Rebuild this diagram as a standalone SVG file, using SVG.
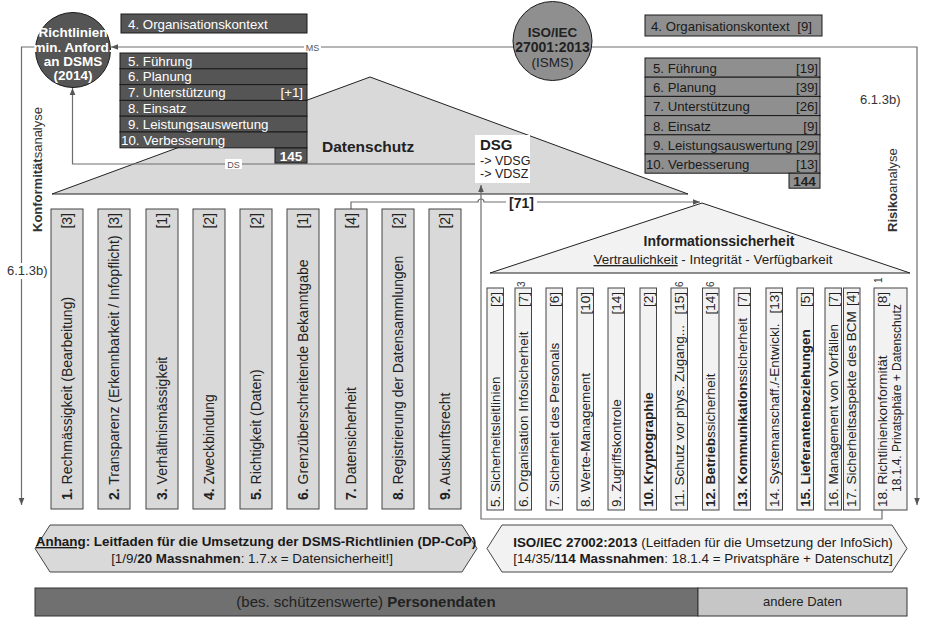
<svg xmlns="http://www.w3.org/2000/svg" width="932" height="619" viewBox="0 0 932 619">
<style>
text{font-family:"Liberation Sans",Arial,sans-serif;fill:#222}
.b{font-weight:bold}
.u{text-decoration:underline}
.coll{fill:#d9d9d9;stroke:#444;stroke-width:1}
.colr{fill:#f2f2f2;stroke:#444;stroke-width:1}
.ct{font-size:14px}
.cr{font-size:13.5px}
.dk{fill:#555;stroke:#1a1a1a;stroke-width:1}
.dkt{fill:#fff;font-size:13.3px}
.iso{fill:#8f8f8f;stroke:#1a1a1a;stroke-width:1}
.isot{font-size:13.2px;fill:#1a1a1a}
.conn{fill:none;stroke:#6e6e6e;stroke-width:1.2}
.lbl{font-size:9px;fill:#555}
.sup{font-size:10px;fill:#333}
.side{font-size:13px;fill:#333}
.hex{font-size:13.4px;fill:#1a1a1a}
</style>
<defs>
<marker id="ah" viewBox="0 0 10 10" refX="10" refY="5" markerWidth="7" markerHeight="7" markerUnits="userSpaceOnUse" orient="auto">
<path d="M0,1 L10,5 L0,9 z" fill="#555"/>
</marker>
</defs>
<rect width="932" height="619" fill="#fff"/>

<g id="triangle-datenschutz">
<polygon points="52,194 370,77 688,194" fill="#d9d9d9" stroke="#222" stroke-width="1"/>
<text x="322" y="152" class="b" style="font-size:15.5px">Datenschutz</text>
</g>
<g id="triangle-infosich">
<polygon points="490,273 702,203 910,273" fill="#f2f2f2" stroke="#222" stroke-width="1"/>
<text x="719" y="246" class="b" text-anchor="middle" style="font-size:14px">Informationssicherheit</text>
<text x="713" y="264" text-anchor="middle" style="font-size:13.4px"><tspan class="u">Vertraulichkeit</tspan> - Integrität - Verfügbarkeit</text>
</g>

<g id="connectors">
<path class="conn" d="M513,47 H111" marker-end="url(#ah)"/>
<path class="conn" d="M592,47 H917 V505" marker-end="url(#ah)"/>
<path class="conn" d="M36,47 H21.5 V505" marker-end="url(#ah)"/>
<path class="conn" d="M475,164 H72.5 V88" marker-end="url(#ah)"/>
<path class="conn" d="M882,510 V519 H481 V185" marker-end="url(#ah)"/>
<path class="conn" d="M351,209 V202 H478 A3,3 0 0 1 484,202 H700" marker-end="url(#ah)"/>
<rect x="304" y="42" width="17" height="10" fill="#fff"/>
<text x="312.5" y="50.5" class="lbl" text-anchor="middle">MS</text>
<rect x="225" y="159" width="17" height="10" fill="#fff"/>
<text x="233.5" y="167.5" class="lbl" text-anchor="middle">DS</text>
<rect x="506" y="196" width="31" height="13" fill="#fff"/>
<text x="521.5" y="207.5" class="b" text-anchor="middle" style="font-size:14px">[71]</text>
</g>

<g id="circle-dsms">
<circle cx="73" cy="50" r="37.5" fill="#555" stroke="#1a1a1a"/>
<text x="73" y="37" class="b" text-anchor="middle" style="font-size:13.5px;fill:#fff">Richtlinien</text>
<text x="73" y="51.5" class="b" text-anchor="middle" style="font-size:13.5px;fill:#fff">min. Anford.</text>
<text x="73" y="65.5" class="b" text-anchor="middle" style="font-size:13.5px;fill:#fff">an DSMS</text>
<text x="73" y="79.5" class="b" text-anchor="middle" style="font-size:13.5px;fill:#fff">(2014)</text>
</g>

<g id="circle-iso27001">
<circle cx="552.5" cy="41" r="39.5" fill="#8f8f8f" stroke="#1a1a1a"/>
<text x="552.5" y="37" class="b" text-anchor="middle" style="font-size:13.5px">ISO/IEC</text>
<text x="552.5" y="52" class="b" text-anchor="middle" style="font-size:14px">27001:2013</text>
<text x="552.5" y="67" text-anchor="middle" style="font-size:13.5px">(ISMS)</text>
</g>

<g id="dsms-chapters">
<rect class="dk" x="121" y="14" width="186" height="19"/>
<text class="dkt" x="128" y="28.5">4. Organisationskontext</text>
<rect class="dk" x="120" y="53" width="187" height="15.8"/>
<rect class="dk" x="120" y="68.8" width="187" height="15.8"/>
<rect class="dk" x="120" y="84.6" width="187" height="15.8"/>
<rect class="dk" x="120" y="100.4" width="187" height="15.8"/>
<rect class="dk" x="120" y="116.2" width="187" height="15.8"/>
<rect class="dk" x="120" y="132" width="187" height="15.8"/>
<text class="dkt" x="128" y="65.5">5. Führung</text>
<text class="dkt" x="128" y="81.3">6. Planung</text>
<text class="dkt" x="128" y="97.1">7. Unterstützung</text>
<text class="dkt" x="303" y="97.1" text-anchor="end">[+1]</text>
<text class="dkt" x="128" y="112.9">8. Einsatz</text>
<text class="dkt" x="128" y="128.7">9. Leistungsauswertung</text>
<text class="dkt" x="121" y="144.5">10. Verbesserung</text>
<rect class="dk" x="275" y="148" width="32" height="15"/>
<text x="291" y="160.5" class="b" text-anchor="middle" style="font-size:13.5px;fill:#fff">145</text>
</g>

<g id="iso-chapters">
<rect class="iso" x="645" y="15" width="177" height="21"/>
<text class="isot" x="651" y="30.5">4. Organisationskontext <tspan dx="4">[9]</tspan></text>
<rect class="iso" x="645" y="58" width="175" height="19.2"/>
<rect class="iso" x="645" y="77.2" width="175" height="19.2"/>
<rect class="iso" x="645" y="96.4" width="175" height="19.2"/>
<rect class="iso" x="645" y="115.6" width="175" height="19.2"/>
<rect class="iso" x="645" y="134.8" width="175" height="19.2"/>
<rect class="iso" x="645" y="154" width="175" height="19.2"/>
<text class="isot" x="653" y="73">5. Führung</text><text class="isot" x="818" y="73" text-anchor="end">[19]</text>
<text class="isot" x="653" y="92.2">6. Planung</text><text class="isot" x="818" y="92.2" text-anchor="end">[39]</text>
<text class="isot" x="653" y="111.4">7. Unterstützung</text><text class="isot" x="818" y="111.4" text-anchor="end">[26]</text>
<text class="isot" x="653" y="130.6">8. Einsatz</text><text class="isot" x="818" y="130.6" text-anchor="end">[9]</text>
<text class="isot" x="653" y="149.8">9. Leistungsauswertung</text><text class="isot" x="818" y="149.8" text-anchor="end">[29]</text>
<text class="isot" x="646" y="169">10. Verbesserung</text><text class="isot" x="818" y="169" text-anchor="end">[13]</text>
<rect class="iso" x="789" y="173.2" width="31" height="15"/>
<text x="804.5" y="185.5" class="b" text-anchor="middle" style="font-size:13.5px">144</text>
</g>

<g id="dsg">
<rect x="475" y="135" width="55" height="48" fill="#fff"/>
<text x="480" y="150" class="b" style="font-size:15px">DSG</text>
<text x="480" y="165" style="font-size:12.5px">-&gt; VDSG</text>
<text x="480" y="178" style="font-size:12.5px">-&gt; VDSZ</text>
</g>

<g id="side-labels">
<rect x="6" y="263" width="42" height="16" fill="#fff"/>
<text class="side" x="7" y="275">6.1.3b)</text>
<text class="side" transform="translate(42,232) rotate(-90)"><tspan class="b">Konformität</tspan>sanalyse</text>
<text class="side" x="860" y="104">6.1.3b)</text>
<text class="side" transform="translate(897,232) rotate(-90)"><tspan class="b">Risiko</tspan>analyse</text>
</g>

<g id="dsg-principles">
<g id="dsg-1"><rect class="coll" x="51" y="209" width="32" height="300"/><text class="ct" transform="translate(72,500) rotate(-90)"><tspan class="b">1.</tspan> Rechmässigkeit (Bearbeitung)</text><text class="ct" text-anchor="end" transform="translate(72,213) rotate(-90)">[3]</text></g>
<g id="dsg-2"><rect class="coll" x="98" y="209" width="32" height="300"/><text class="ct" transform="translate(119,500) rotate(-90)"><tspan class="b">2.</tspan> Transparenz (Erkennbarkeit / Infopflicht)</text><text class="ct" text-anchor="end" transform="translate(119,213) rotate(-90)">[3]</text></g>
<g id="dsg-3"><rect class="coll" x="146" y="209" width="32" height="300"/><text class="ct" transform="translate(167,500) rotate(-90)"><tspan class="b">3.</tspan> Verhältnismässigkeit</text><text class="ct" text-anchor="end" transform="translate(167,213) rotate(-90)">[1]</text></g>
<g id="dsg-4"><rect class="coll" x="193" y="209" width="32" height="300"/><text class="ct" transform="translate(214,500) rotate(-90)"><tspan class="b">4.</tspan> Zweckbindung</text><text class="ct" text-anchor="end" transform="translate(214,213) rotate(-90)">[2]</text></g>
<g id="dsg-5"><rect class="coll" x="240" y="209" width="32" height="300"/><text class="ct" transform="translate(261,500) rotate(-90)"><tspan class="b">5.</tspan> Richtigkeit (Daten)</text><text class="ct" text-anchor="end" transform="translate(261,213) rotate(-90)">[2]</text></g>
<g id="dsg-6"><rect class="coll" x="287" y="209" width="32" height="300"/><text class="ct" transform="translate(308,500) rotate(-90)"><tspan class="b">6.</tspan> Grenzüberschreitende Bekanntgabe</text><text class="ct" text-anchor="end" transform="translate(308,213) rotate(-90)">[1]</text></g>
<g id="dsg-7"><rect class="coll" x="335" y="209" width="32" height="300"/><text class="ct" transform="translate(356,500) rotate(-90)"><tspan class="b">7.</tspan> Datensicherheit</text><text class="ct" text-anchor="end" transform="translate(356,213) rotate(-90)">[4]</text></g>
<g id="dsg-8"><rect class="coll" x="382" y="209" width="32" height="300"/><text class="ct" transform="translate(403,500) rotate(-90)"><tspan class="b">8.</tspan> Registrierung der Datensammlungen</text><text class="ct" text-anchor="end" transform="translate(403,213) rotate(-90)">[2]</text></g>
<g id="dsg-9"><rect class="coll" x="429" y="209" width="32" height="300"/><text class="ct" transform="translate(450,500) rotate(-90)"><tspan class="b">9.</tspan> Auskunftsrecht</text><text class="ct" text-anchor="end" transform="translate(450,213) rotate(-90)">[2]</text></g>
</g>

<g id="iso-controls">
<g id="iso-5"><rect class="colr" x="487" y="288" width="16.5" height="222"/><text class="cr" transform="translate(499.5,507) rotate(-90)">5. Sicherheitsleitlinien</text><text class="cr" text-anchor="end" transform="translate(499.5,292) rotate(-90)">[2]</text></g>
<g id="iso-6"><rect class="colr" x="515" y="288" width="16.5" height="222"/><text class="cr" transform="translate(527.5,507) rotate(-90)">6. Organisation Infosicherheit</text><text class="cr" text-anchor="end" transform="translate(527.5,292) rotate(-90)">[7]</text><text class="sup" transform="translate(525,287) rotate(-90)">3</text></g>
<g id="iso-7"><rect class="colr" x="546" y="288" width="16.5" height="222"/><text class="cr" transform="translate(558.5,507) rotate(-90)">7. Sicherheit des Personals</text><text class="cr" text-anchor="end" transform="translate(558.5,292) rotate(-90)">[6]</text></g>
<g id="iso-8"><rect class="colr" x="577" y="288" width="16.5" height="222"/><text class="cr" transform="translate(589.5,507) rotate(-90)">8. Werte-Management</text><text class="cr" text-anchor="end" transform="translate(589.5,292) rotate(-90)">[10]</text></g>
<g id="iso-9"><rect class="colr" x="608" y="288" width="16.5" height="222"/><text class="cr" transform="translate(620.5,507) rotate(-90)">9. Zugriffskontrole</text><text class="cr" text-anchor="end" transform="translate(620.5,292) rotate(-90)">[14]</text></g>
<g id="iso-10"><rect class="colr" x="640" y="288" width="16.5" height="222"/><text class="cr b" transform="translate(652.5,507) rotate(-90)">10. Kryptographie</text><text class="cr" text-anchor="end" transform="translate(652.5,292) rotate(-90)">[2]</text></g>
<g id="iso-11"><rect class="colr" x="671" y="288" width="16.5" height="222"/><text class="cr" transform="translate(683.5,507) rotate(-90)">11. Schutz vor phys. Zugang...</text><text class="cr" text-anchor="end" transform="translate(683.5,292) rotate(-90)">[15]</text><text class="sup" transform="translate(683,287) rotate(-90)">6</text></g>
<g id="iso-12"><rect class="colr" x="702.5" y="288" width="16.5" height="222"/><text class="cr" transform="translate(715,507) rotate(-90)"><tspan class="b">12. Betrieb</tspan>ssicherheit</text><text class="cr" text-anchor="end" transform="translate(715,292) rotate(-90)">[14]</text><text class="sup" transform="translate(714,287) rotate(-90)">6</text></g>
<g id="iso-13"><rect class="colr" x="734" y="288" width="16.5" height="222"/><text class="cr" transform="translate(746.5,507) rotate(-90)"><tspan class="b">13. Kommunikation</tspan>ssicherheit</text><text class="cr" text-anchor="end" transform="translate(746.5,292) rotate(-90)">[7]</text></g>
<g id="iso-14"><rect class="colr" x="766" y="288" width="16.5" height="222"/><text class="cr" transform="translate(778.5,507) rotate(-90)">14. Systemanschaff./-Entwickl.</text><text class="cr" text-anchor="end" transform="translate(778.5,291) rotate(-90)">[13]</text></g>
<g id="iso-15"><rect class="colr" x="797" y="288" width="16.5" height="222"/><text class="cr b" transform="translate(809.5,507) rotate(-90)">15. Lieferantenbeziehungen</text><text class="cr" text-anchor="end" transform="translate(809.5,292) rotate(-90)">[5]</text></g>
<g id="iso-16"><rect class="colr" x="825" y="288" width="16.5" height="222"/><text class="cr" transform="translate(837.5,507) rotate(-90)">16. Management von Vorfällen</text><text class="cr" text-anchor="end" transform="translate(837.5,292) rotate(-90)">[7]</text></g>
<g id="iso-17"><rect class="colr" x="843.5" y="288" width="16.5" height="222"/><text class="cr" transform="translate(856,507) rotate(-90)">17. Sicherheitsaspekte des BCM</text><text class="cr" text-anchor="end" transform="translate(856,291) rotate(-90)">[4]</text></g>
<g id="iso-18"><rect class="colr" x="874" y="288" width="33" height="222"/><text class="cr" transform="translate(887,507) rotate(-90)">18. Richtlinienkonformität</text><text class="cr" text-anchor="end" transform="translate(887,292) rotate(-90)">[8]</text><text transform="translate(900.5,492) rotate(-90)" style="font-size:12px">18.1.4. Privatsphäre + Datenschutz</text><text class="sup" transform="translate(882,283) rotate(-90)">1</text></g>
</g>

<g id="anhang-dpcop">
<polygon points="50,525 462,525 477,548.5 462,572 50,572 35,548.5" fill="#d9d9d9" stroke="#444"/>
<text class="hex b" x="256" y="546" text-anchor="middle"><tspan class="u">Anhang</tspan>: Leitfaden für die Umsetzung der DSMS-Richtlinien (DP-CoP)</text>
<text class="hex" x="252" y="563" text-anchor="middle">[1/9/<tspan class="b">20 Massnahmen</tspan>: 1.7.x = Datensicherheit!]</text>
</g>

<g id="iso27002">
<polygon points="502,525 892,525 907,548.5 892,572 502,572 487,548.5" fill="#f2f2f2" stroke="#444"/>
<text class="hex" x="703" y="547" text-anchor="middle"><tspan class="b">ISO/IEC 27002:2013</tspan> (Leitfaden für die Umsetzung der InfoSich)</text>
<text class="hex" x="703" y="563" text-anchor="middle">[14/35/<tspan class="b">114 Massnahmen</tspan>: 18.1.4 = Privatsphäre + Datenschutz]</text>
</g>

<g id="personendaten">
<rect x="35" y="588" width="663" height="28" fill="#707070" stroke="#333"/>
<text x="366" y="607" text-anchor="middle" style="font-size:15px">(bes. schützenswerte) <tspan class="b">Personendaten</tspan></text>
</g>
<g id="andere-daten">
<rect x="698" y="588" width="209" height="28" fill="#c6c6c6" stroke="#333"/>
<text x="802.5" y="606" text-anchor="middle" style="font-size:13px">andere Daten</text>
</g>
</svg>
